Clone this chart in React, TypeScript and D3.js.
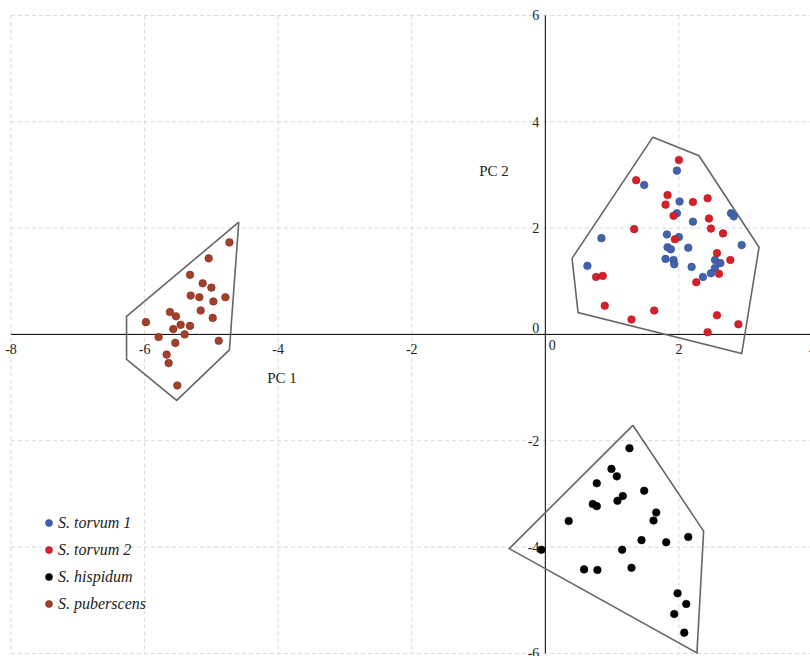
import React from 'react';
import * as d3 from 'd3';

// PCA scores
const torvum1X = [1.97, 1.48, 2.01, 1.97, 2.78, 2.82, 2.21, 0.84, 1.82, 2.0, 2.94, 1.83, 1.88, 2.14, 1.8, 1.92, 1.93, 2.54, 2.62, 2.54, 2.19, 2.48, 2.36, 0.63];
const torvum1Y = [3.08, 2.81, 2.5, 2.28, 2.28, 2.22, 2.12, 1.81, 1.88, 1.83, 1.68, 1.64, 1.6, 1.63, 1.42, 1.4, 1.32, 1.4, 1.34, 1.25, 1.27, 1.15, 1.08, 1.29];

const torvum2X = [2.0, 1.36, 1.83, 1.8, 2.21, 2.43, 1.92, 2.45, 1.33, 2.48, 2.66, 1.94, 2.57, 2.77, 2.6, 0.76, 0.86, 2.26, 0.89, 1.63, 1.29, 2.57, 2.89, 2.43];
const torvum2Y = [3.28, 2.9, 2.62, 2.44, 2.49, 2.56, 2.23, 2.18, 1.98, 1.99, 1.9, 1.79, 1.53, 1.4, 1.14, 1.08, 1.1, 0.98, 0.54, 0.45, 0.28, 0.36, 0.19, 0.04];

const hispidumX = [1.26, 0.99, 1.07, 0.77, 1.48, 1.16, 1.08, 0.71, 0.77, 1.66, 1.62, 0.35, 1.44, 1.81, 2.14, -0.06, 1.15, 1.29, 0.58, 0.78, 1.98, 2.11, 1.93, 2.08];
const hispidumY = [-2.14, -2.53, -2.67, -2.8, -2.94, -3.04, -3.13, -3.19, -3.23, -3.35, -3.5, -3.51, -3.87, -3.91, -3.81, -4.05, -4.05, -4.39, -4.42, -4.43, -4.87, -5.07, -5.26, -5.61];

const puberX = [-4.73, -5.04, -5.32, -5.13, -5.0, -5.31, -5.18, -4.97, -4.79, -5.16, -5.62, -5.53, -4.98, -5.98, -5.46, -5.32, -5.57, -5.4, -5.79, -4.89, -5.54, -5.67, -5.64, -5.51];
const puberY = [1.73, 1.43, 1.12, 0.96, 0.88, 0.73, 0.7, 0.62, 0.7, 0.45, 0.42, 0.34, 0.31, 0.23, 0.18, 0.16, 0.1, 0.0, -0.05, -0.12, -0.16, -0.38, -0.54, -0.96];

// group outlines
const torvumHull = [[1.61, 3.71], [2.3, 3.36], [3.2, 1.64], [2.94, -0.36], [0.49, 0.41], [0.4, 1.43]];
const hispidumHull = [[1.31, -1.71], [2.37, -3.7], [2.27, -5.99], [-0.54, -4.03]];
const puberHull = [[-4.59, 2.11], [-6.27, 0.34], [-6.27, -0.47], [-5.52, -1.24], [-4.73, -0.29]];

const xTicks = [-8, -6, -4, -2, 0, 2, 4];
const yTicks = [-6, -4, -2, 0, 2, 4, 6];

const series = [
  { name: 'S. torvum 1', xs: torvum1X, ys: torvum1Y, fill: '#4262ad', stroke: '#2f4a8a' },
  { name: 'S. torvum 2', xs: torvum2X, ys: torvum2Y, fill: '#d8202a', stroke: '#a8161d' },
  { name: 'S. hispidum', xs: hispidumX, ys: hispidumY, fill: '#000000', stroke: '#000000' },
  { name: 'S. puberscens', xs: puberX, ys: puberY, fill: '#a2402a', stroke: '#7a2e1c' },
];
const hulls = [torvumHull, hispidumHull, puberHull];

const W = 810;
const H = 656;
const font = "'Liberation Serif', 'DejaVu Serif', serif";

export default function App() {
  const x = d3.scaleLinear().domain([-8, 4]).range([11, 812.5]);
  const y = d3.scaleLinear().domain([-6, 6]).range([653.4, 15.4]);
  const line = d3.line<number[]>().x(d => x(d[0])).y(d => y(d[1]));
  const ts = { fontFamily: font };

  return (
    <svg width={W} height={H} style={{ position: 'absolute', left: 0, top: 0 }}>
      <rect width={W} height={H} fill="#fff" />
      {/* grid */}
      {xTicks.map(t => (
        <line key={'gx' + t} x1={x(t)} x2={x(t)} y1={y(6)} y2={y(-6)} stroke="#d9d9d9" strokeDasharray="4,3" />
      ))}
      {yTicks.map(t => (
        <line key={'gy' + t} x1={x(-8)} x2={x(4)} y1={y(t)} y2={y(t)} stroke="#d9d9d9" strokeDasharray="4,3" />
      ))}
      {/* axes */}
      <line x1={x(-8)} x2={x(4)} y1={y(0)} y2={y(0)} stroke="#000" strokeWidth={1} />
      <line x1={x(0)} x2={x(0)} y1={y(6)} y2={y(-6)} stroke="#000" strokeWidth={1} />
      {xTicks.map(t => (
        <text key={'xl' + t} style={ts} x={t === 0 ? x(t) + 7 : x(t)} y={t === 0 ? y(0) + 16 : y(0) + 20}
          textAnchor="middle" fontSize={14} fill="#222">{t}</text>
      ))}
      {yTicks.map(t => (
        <text key={'yl' + t} style={ts} x={x(0) - 6} y={t === 0 ? y(t) - 1 : y(t) + 5}
          textAnchor="end" fontSize={14} fill="#222">{t}</text>
      ))}
      <text style={ts} x={282} y={383} textAnchor="middle" fontSize={15} fill="#222">PC 1</text>
      <text style={ts} x={494} y={176} textAnchor="middle" fontSize={15} fill="#222">PC 2</text>
      {/* outlines */}
      {hulls.map((h, i) => (
        <path key={'h' + i} d={line([...h, h[0]]) || ''} fill="none" stroke="#666" strokeWidth={1.6} />
      ))}
      {/* points */}
      {series.map(s => (
        <g key={s.name}>
          {s.xs.map((v, i) => (
            <circle key={i} cx={x(v)} cy={y(s.ys[i])} r={3.8} fill={s.fill} stroke={s.stroke} strokeWidth={0.6} />
          ))}
        </g>
      ))}
      {/* legend */}
      {series.map((s, i) => (
        <g key={'lg' + s.name} transform={`translate(49,${523 + i * 27})`}>
          <circle r={3.5} fill={s.fill} stroke={s.stroke} strokeWidth={0.6} />
          <text style={ts} x={9} y={5} fontSize={16} fontStyle="italic" fill="#222">{s.name}</text>
        </g>
      ))}
    </svg>
  );
}
